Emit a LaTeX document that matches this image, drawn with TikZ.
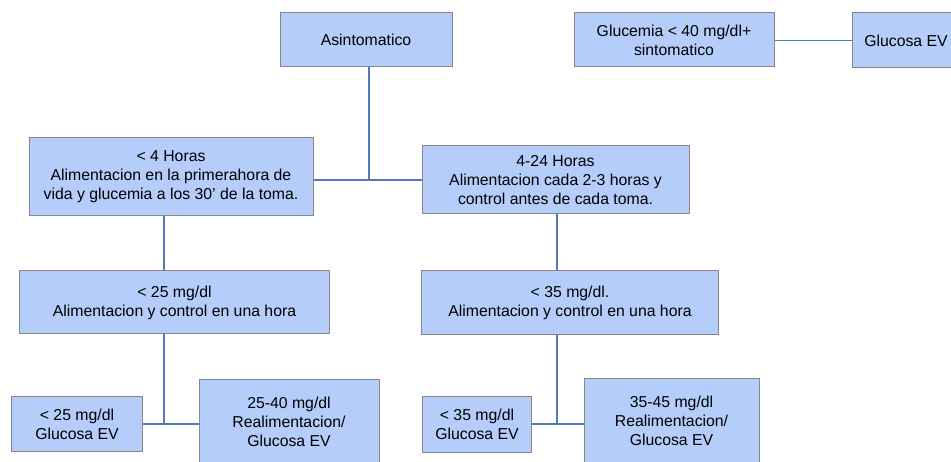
\documentclass[tikz,border=0pt]{standalone}
\usepackage{fontspec}
\setmainfont{Liberation Sans}
\definecolor{boxfill}{RGB}{180,205,250}
\definecolor{boxdraw}{RGB}{135,135,135}
\definecolor{linkcol}{RGB}{80,122,180}
\begin{document}
\begin{tikzpicture}[x=1pt,y=-1pt,
  box/.style={draw=boxdraw,fill=boxfill,line width=1pt,rectangle,inner sep=0pt,align=center,
    font=\fontsize{15.8}{19}\selectfont},
  link/.style={draw=linkcol,line width=1.1pt}]
\useasboundingbox (0,0) rectangle (951,462);
\clip (0,0) rectangle (951,462);
\node[box,minimum width=172,minimum height=54] (asin) at (366,40) {Asintomatico};
\node[box,minimum width=200,minimum height=54] (gluc) at (674,40) {Glucemia < 40 mg/dl+\\sintomatico};
\node[box,minimum width=108,minimum height=55] (gev) at (906,40.5) {Glucosa EV};
\node[box,minimum width=284,minimum height=78] (h4) at (171,176.5) {< 4 Horas\\Alimentacion en la primerahora de\\vida y glucemia a los 30’ de la toma.};
\node[box,minimum width=267,minimum height=68] (h424) at (555.5,180) {4-24 Horas\\Alimentacion cada 2-3 horas y\\control antes de cada toma.};
\node[box,minimum width=310,minimum height=63] (m25) at (174.5,302.5) {< 25 mg/dl\\Alimentacion y control en una hora};
\node[box,minimum width=297,minimum height=64] (m35) at (570,303) {< 35 mg/dl.\\Alimentacion y control en una hora};
\node[box,minimum width=131,minimum height=55] (g25) at (77,424) {< 25 mg/dl\\Glucosa EV};
\node[box,minimum width=180,minimum height=83] (r2540) at (289,421.5) {25-40 mg/dl\\Realimentacion/\\Glucosa EV};
\node[box,minimum width=109,minimum height=56] (g35) at (477,424.5) {< 35 mg/dl\\Glucosa EV};
\node[box,minimum width=175,minimum height=84] (r3545) at (671.5,421) {35-45 mg/dl\\Realimentacion/\\Glucosa EV};
\coordinate (j1) at (369,180);
\coordinate (cl) at (164,0);
\coordinate (cr) at (557,0);
\coordinate (jl) at (164,424);
\coordinate (jr) at (557,424);
\draw[link] (gluc.east |- gev.west) -- (gev.west);
\draw[link] (asin.south -| j1) -- (j1);
\draw[link] (h4.east |- j1) -- (h424.west |- j1);
\draw[link] (h4.south -| cl) -- (m25.north -| cl);
\draw[link] (h424.south -| cr) -- (m35.north -| cr);
\draw[link] (m25.south -| cl) -- (jl);
\draw[link] (g25.east |- jl) -- (r2540.west |- jl);
\draw[link] (m35.south -| cr) -- (jr);
\draw[link] (g35.east |- jr) -- (r3545.west |- jr);
\end{tikzpicture}
\end{document}
